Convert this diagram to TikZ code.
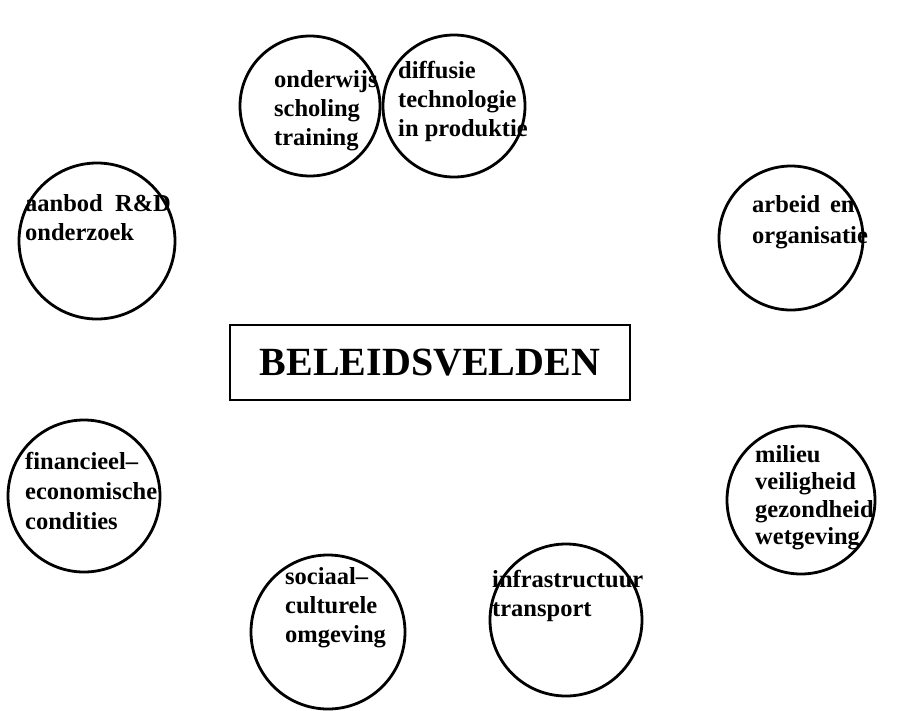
\documentclass[tikz,border=0pt]{standalone}
\usepackage{fontspec}
\setmainfont{Liberation Serif}
\begin{document}
\begin{tikzpicture}[x=1pt,y=-1pt,
  field/.style={draw, circle, line width=2.8pt, inner sep=0pt},
  fieldtext/.style={anchor=north west, align=left, inner sep=0pt,
    font=\fontsize{24.5}{29}\selectfont\bfseries},
  titlebox/.style={draw, line width=2.6pt, minimum width=400pt, minimum height=75pt,
    font=\fontsize{40}{46}\selectfont\bfseries}]
\useasboundingbox (0,0) rectangle (916,710);
% circles
\node[field, minimum size=140pt] (onderwijs) at (310,106) {};
\node[field, minimum size=142pt] (diffusie) at (454,106) {};
\node[field, minimum size=156pt] (aanbod) at (97,241) {};
\node[field, minimum size=144pt] (arbeid) at (791,238) {};
\node[field, minimum size=152pt] (financieel) at (84,496) {};
\node[field, minimum size=148pt] (milieu) at (801,500) {};
\node[field, minimum size=154pt] (sociaal) at (328,632) {};
\node[field, minimum size=152pt] (infra) at (566,620) {};
% texts
\node[fieldtext] (t1) at (274,70) {onderwijs\\scholing\\training};
\node[fieldtext] (t2) at (398,61) {diffusie\\technologie\\in produktie};
\node[fieldtext] (t3) at (25,194) {aanbod\hspace{0.25em} R\&D\\onderzoek};
\node[fieldtext, font=\fontsize{24.5}{31}\selectfont\bfseries] (t4) at (752,195) {arbeid\hspace{0.15em} en\\organisatie};
\node[fieldtext, font=\fontsize{24.5}{30}\selectfont\bfseries] (t5) at (25,452) {financieel--\\economische\\condities};
\node[fieldtext, font=\fontsize{24.5}{27.5}\selectfont\bfseries] (t6) at (755,445) {milieu\\veiligheid\\gezondheid\\wetgeving};
\node[fieldtext] (t7) at (285,567) {sociaal--\\culturele\\omgeving};
\node[fieldtext] (t8) at (492,570) {infrastructuur\\transport};
% title
\node[titlebox] (title) at (430,362.5) {BELEIDSVELDEN};
\end{tikzpicture}
\end{document}
